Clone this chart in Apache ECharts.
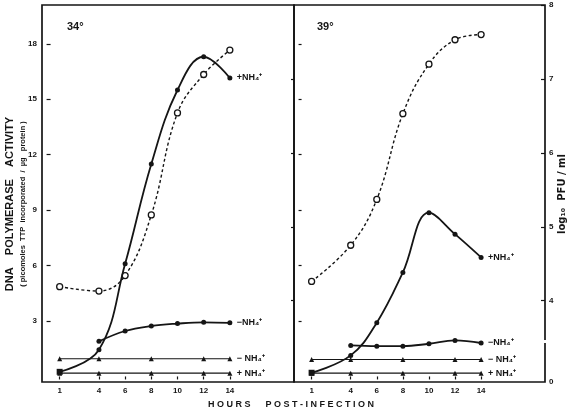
<!DOCTYPE html>
<html>
<head>
<meta charset="utf-8">
<script src="https://cdn.jsdelivr.net/npm/echarts@6/dist/echarts.min.js"></script>
<style>
  html, body { margin: 0; padding: 0; background: #fff; }
  #chart { width: 571px; height: 414px; }
</style>
</head>
<body>
<div id="chart"></div>
<script>
// hours post-infection
const hours = [1, 4, 6, 8, 10, 12, 14];
const minusHours = [4, 6, 8, 10, 12, 14];
const triHours = [1, 4, 8, 12, 14];
const hourTicks = [1, 4, 6, 8, 10, 12, 14];
const polyTicks = [3, 6, 9, 12, 15, 18];
const pfuTicks = [4, 5, 6, 7, 8];
const pfuLabelValues = [2.9, 4, 5, 6, 7, 8]; // 2.9 = broken-axis bottom, labelled 0

// 34 degrees
const pol34Plus = [0.25, 1.45, 6.1, 11.5, 15.5, 17.3, 16.15];
const pol34Minus = [1.9, 2.46, 2.73, 2.86, 2.93, 2.9];
const tri34Minus = [0.96, 0.96, 0.96, 0.96, 0.96];
const tri34Plus = [0.18, 0.18, 0.18, 0.18, 0.18];
const pfu34 = [4.19, 4.13, 4.34, 5.16, 6.54, 7.06, 7.39];

// 39 degrees
const pol39Plus = [0.2, 1.14, 2.91, 5.63, 8.86, 7.7, 6.44];
const pol39Minus = [1.68, 1.64, 1.64, 1.77, 1.95, 1.81];
const tri39Minus = [0.92, 0.92, 0.92, 0.92, 0.92];
const tri39Plus = [0.18, 0.18, 0.18, 0.18, 0.18];
const pfu39 = [4.26, 4.75, 5.37, 6.53, 7.2, 7.53, 7.6];

const INK = '#151515';
const FONT = 'Liberation Sans';

function pairs(xs, ys) {
    return xs.map(function (x, i) { return [x, ys[i]]; });
}

function labelStyle(text) {
    return {
        show: true,
        formatter: text,
        color: INK,
        fontFamily: FONT,
        fontWeight: 'bold',
        fontSize: 9,
        distance: 7
    };
}

function solidCurve(grid, yIdx, xs, ys, text) {
    let data = pairs(xs, ys);
    // the first (hour 1) readings are drawn as a heavy square cluster
    if (xs[0] === 1) {
        data[0] = { value: data[0], symbol: 'rect', symbolSize: 6 };
    }
    return {
        type: 'line',
        xAxisIndex: grid,
        yAxisIndex: yIdx,
        data: data,
        smooth: 0.4,
        symbol: 'circle',
        symbolSize: 5,
        itemStyle: { color: INK },
        lineStyle: { color: INK, width: 1.8 },
        endLabel: labelStyle(text),
        z: 5
    };
}

function triLine(grid, yIdx, ys, text) {
    return {
        type: 'line',
        xAxisIndex: grid,
        yAxisIndex: yIdx,
        data: pairs(triHours, ys),
        symbol: 'triangle',
        symbolSize: 5,
        itemStyle: { color: INK },
        lineStyle: { color: INK, width: 1.1 },
        endLabel: labelStyle(text),
        z: 4
    };
}

function pfuCurve(grid, yIdx, ys) {
    return {
        type: 'line',
        xAxisIndex: grid,
        yAxisIndex: yIdx,
        data: pairs(hours, ys),
        smooth: 0.4,
        symbol: 'circle',
        symbolSize: 6,
        itemStyle: { color: '#fff', borderColor: INK, borderWidth: 1.3 },
        lineStyle: { color: INK, width: 1.4, type: [3, 2.5] },
        z: 3
    };
}

function xAxisFor(grid) {
    return {
        gridIndex: grid,
        type: 'value',
        min: -0.35,
        max: 18.9,
        axisLine: { show: false },
        splitLine: { show: false },
        axisTick: { show: true, length: 3, customValues: hourTicks, lineStyle: { color: INK, width: 1.2 } },
        axisLabel: { customValues: hourTicks, color: INK, fontFamily: FONT, fontWeight: 'bold', fontSize: 8, margin: 5 }
    };
}

const tickStyle = { color: INK, width: 1.2 };

const chart = echarts.init(document.getElementById('chart'));
chart.setOption({
    animation: false,
    backgroundColor: '#fff',
    grid: [
        { left: 42, top: 5, width: 252, height: 377, show: true, borderColor: INK, borderWidth: 1.7, backgroundColor: 'transparent' },
        { left: 294, top: 5, width: 251, height: 377, show: true, borderColor: INK, borderWidth: 1.7, backgroundColor: 'transparent' }
    ],
    xAxis: [xAxisFor(0), xAxisFor(1)],
    yAxis: [
        {
            gridIndex: 0, type: 'value', position: 'left', min: -0.3, max: 20.1,
            axisLine: { show: false }, splitLine: { show: false },
            axisTick: { show: true, inside: true, length: 4, customValues: polyTicks, lineStyle: tickStyle },
            axisLabel: { customValues: polyTicks, color: INK, fontFamily: FONT, fontWeight: 'bold', fontSize: 8, margin: 5 }
        },
        {
            gridIndex: 0, type: 'value', position: 'right', min: 2.9, max: 8,
            axisLine: { show: false }, splitLine: { show: false },
            axisTick: { show: true, inside: true, length: 3, customValues: [4, 5, 6, 7], lineStyle: tickStyle },
            axisLabel: { show: false }
        },
        {
            gridIndex: 1, type: 'value', position: 'left', min: -0.3, max: 20.1,
            axisLine: { show: false }, splitLine: { show: false },
            axisTick: { show: true, inside: true, length: 3, customValues: polyTicks, lineStyle: tickStyle },
            axisLabel: { show: false }
        },
        {
            gridIndex: 1, type: 'value', position: 'right', min: 2.9, max: 8,
            axisLine: { show: false }, splitLine: { show: false },
            axisTick: { show: true, inside: true, length: 4, customValues: pfuTicks, lineStyle: tickStyle },
            axisLabel: {
                customValues: pfuLabelValues, showMinLabel: true, showMaxLabel: true,
                color: INK, fontFamily: FONT, fontWeight: 'bold', fontSize: 8, margin: 4,
                formatter: function (v) { return v < 3 ? '0' : String(Math.round(v)); }
            }
        }
    ],
    series: [
        pfuCurve(0, 1, pfu34),
        solidCurve(0, 0, hours, pol34Plus, '+NH₄⁺'),
        solidCurve(0, 0, minusHours, pol34Minus, '−NH₄⁺'),
        triLine(0, 0, tri34Minus, '− NH₄⁺'),
        triLine(0, 0, tri34Plus, '+ NH₄⁺'),
        pfuCurve(1, 3, pfu39),
        solidCurve(1, 2, hours, pol39Plus, '+NH₄⁺'),
        solidCurve(1, 2, minusHours, pol39Minus, '−NH₄⁺'),
        triLine(1, 2, tri39Minus, '− NH₄⁺'),
        triLine(1, 2, tri39Plus, '+ NH₄⁺')
    ],
    graphic: [
        { type: 'text', left: 67, top: 21, style: { text: '34°', fill: INK, font: 'bold 11px "Liberation Sans"' } },
        { type: 'text', left: 317, top: 21, style: { text: '39°', fill: INK, font: 'bold 11px "Liberation Sans"' } },
        {
            type: 'text', x: 10, y: 204, rotation: Math.PI / 2,
            style: { text: 'DNA    POLYMERASE    ACTIVITY', fill: INK, font: 'bold 11px "Liberation Sans"', align: 'center', verticalAlign: 'middle' }
        },
        {
            type: 'text', x: 23, y: 204, rotation: Math.PI / 2,
            style: { text: '( picomoles  TTP  incorporated  /  µg   protein )', fill: INK, font: 'bold 7.5px "Liberation Sans"', align: 'center', verticalAlign: 'middle' }
        },
        {
            type: 'text', x: 562, y: 194, rotation: Math.PI / 2,
            style: { text: 'log₁₀  PFU / ml', fill: INK, font: 'bold 10px "DejaVu Sans"', align: 'center', verticalAlign: 'middle' }
        },
        {
            type: 'text', x: 291, y: 405,
            style: { text: 'H O U R S      P O S T - I N F E C T I O N', fill: INK, font: 'bold 9px "Liberation Sans"', align: 'center', verticalAlign: 'middle' }
        },
        // small gap marking the break in the right-hand axis
        { type: 'rect', shape: { x: 543, y: 340, width: 4, height: 3 }, style: { fill: '#fff' }, z: 100 }
    ]
});
</script>
</body>
</html>
